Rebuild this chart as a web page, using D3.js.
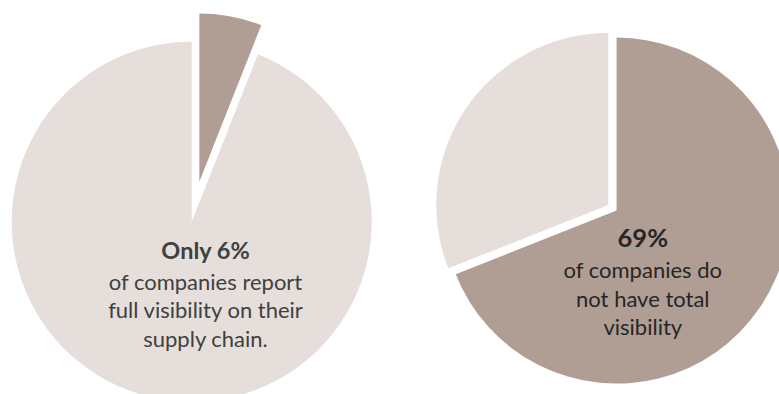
<!DOCTYPE html>
<html>
<head>
<meta charset="utf-8">
<script src="https://cdn.jsdelivr.net/npm/d3@7"></script>
<style>
  html, body { margin: 0; padding: 0; background: #fff; }
  #chart { width: 779px; height: 394px; overflow: hidden; }
  text { font-family: Lato, "Open Sans", sans-serif; }
</style>
</head>
<body>
<div id="chart"></div>
<script>
// left pie: share with full visibility
const leftCategories = ["Full visibility", "Other"];
const leftValues = [6, 94];
const leftHeadline = "Only 6%";
const leftLines = ["of companies report", "full visibility on their", "supply chain."];

// right pie: share without total visibility
const rightCategories = ["No total visibility", "Total visibility"];
const rightValues = [69, 31];
const rightHeadline = "69%";
const rightLines = ["of companies do", "not have total", "visibility"];

const W = 779, H = 394;
const light = "#e5dedb";
const dark = "#b09d94";

const svg = d3.select("#chart")
  .append("svg")
  .attr("width", W)
  .attr("height", H);

const pie = d3.pie()
  .sort(null)
  .value(d => d.v)
  .startAngle(0)
  .endAngle(2 * Math.PI);

function drawPie(opts) {
  const g = svg.append("g")
    .attr("transform", `translate(${opts.cx},${opts.cy})`);

  const color = d3.scaleOrdinal()
    .domain(opts.categories)
    .range(opts.colors);

  const slices = pie(opts.values.map((v, i) => ({ cat: opts.categories[i], v })));

  slices.forEach((d, i) => {
    const r = opts.radius[i];
    const off = opts.explode[i];
    const mid = (d.startAngle + d.endAngle) / 2;
    const dx = Math.sin(mid) * off;
    const dy = -Math.cos(mid) * off;
    g.append("path")
      .attr("transform", `translate(${dx},${dy})`)
      .attr("d", d3.arc().innerRadius(0).outerRadius(r)(d))
      .attr("fill", color(d.data.cat));
  });

  // label
  const t = svg.append("g")
    .attr("transform", `translate(${opts.tx},${opts.ty})`)
    .attr("text-anchor", "middle");

  t.append("text")
    .attr("y", 0)
    .attr("font-size", opts.headSize)
    .attr("font-weight", "bold")
    .attr("fill", opts.headColor)
    .text(opts.headline);

  t.selectAll("text.line")
    .data(opts.lines)
    .enter()
    .append("text")
    .attr("class", "line")
    .attr("y", (d, i) => opts.firstLine + i * 28.3)
    .attr("font-size", "22px")
    .attr("fill", opts.textColor)
    .text(d => d);
}

drawPie({
  cx: 191.7, cy: 221.7,
  categories: leftCategories,
  values: leftValues,
  colors: [dark, light],
  radius: [168, 180],
  explode: [41, 0],
  tx: 205.5, ty: 259,
  firstLine: 31,
  headSize: "23.5px",
  headline: leftHeadline,
  lines: leftLines,
  headColor: "#404040",
  textColor: "#404040"
});

drawPie({
  cx: 608.3, cy: 205,
  categories: rightCategories,
  values: rightValues,
  colors: [dark, light],
  radius: [173, 172],
  explode: [10, 0],
  tx: 642.8, ty: 246.7,
  firstLine: 31.6,
  headSize: "25.5px",
  headline: rightHeadline,
  lines: rightLines,
  headColor: "#262626",
  textColor: "#262626"
});
</script>
</body>
</html>
